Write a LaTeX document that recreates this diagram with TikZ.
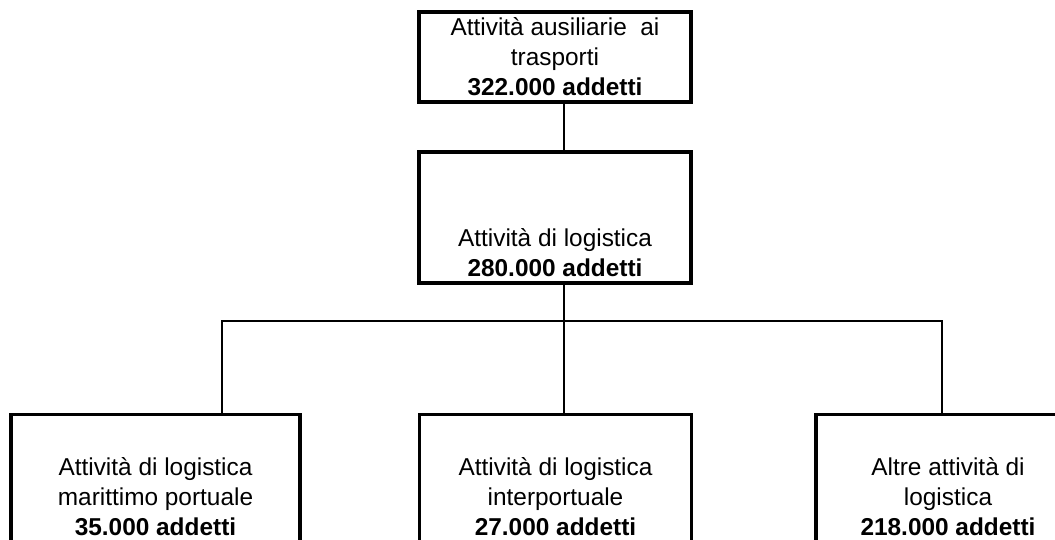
\documentclass[tikz,border=0pt]{standalone}
\usepackage{fontspec}
\setmainfont{Liberation Sans}
\usetikzlibrary{positioning,calc}

\begin{document}
\begin{tikzpicture}
[x=0.75pt, y=-0.75pt, node distance=35.1pt,
box/.style = 
{draw, line width=2.4pt, rectangle, minimum width=204pt, inner sep=0pt},
txt/.style = {align=center, inner sep=0pt, font=\fontsize{18.3}{22.5}\selectfont},
link/.style = {line width=2pt}]
\path[use as bounding box] (0,0) rectangle (1055,539);
\clip (0,0) rectangle (1055,539);

\node [box, minimum height=67.5pt] (aux) at (555,57) {};
\node [box, minimum height=98.25pt, below=of aux] (log) {};

\node [box, minimum width=216.75pt, minimum height=150pt, anchor=north] (mar) at (155.5,413) {};
\node [box, minimum height=150pt, anchor=north] (int) at (555.5,413) {};
\node [box, minimum width=198pt, minimum height=150pt, anchor=north] (alt) at (948,413) {};

\node [txt] (auxT) at (aux) {Attività ausiliarie~ ai\\trasporti\\\textbf{322.000 addetti}};
\node [txt, anchor=south] (logT) at ($(log.south)+(0,-8)$) {Attività di logistica\\\textbf{280.000 addetti}};
\node [txt, anchor=north] (marT) at ($(mar.north)+(0,44)$) {Attività di logistica\\marittimo portuale\\\textbf{35.000 addetti}};
\node [txt, anchor=north] (intT) at ($(int.north)+(0,44)$) {Attività di logistica\\interportuale\\\textbf{27.000 addetti}};
\node [txt, anchor=north] (altT) at ($(alt.north)+(0,44)$) {Altre attività di\\logistica\\\textbf{218.000 addetti}};

\coordinate (bar) at (564,321);
\coordinate (barL) at (222,321);
\coordinate (barR) at (942,321);

\draw[link] (aux.south -| bar) -- (log.north -| bar);
\draw[link] (log.south -| bar) -- (int.north -| bar);
\draw[link] (barL |- mar.north) -- (barL) -- (barR) -- (barR |- alt.north);

\end{tikzpicture}
\end{document}
